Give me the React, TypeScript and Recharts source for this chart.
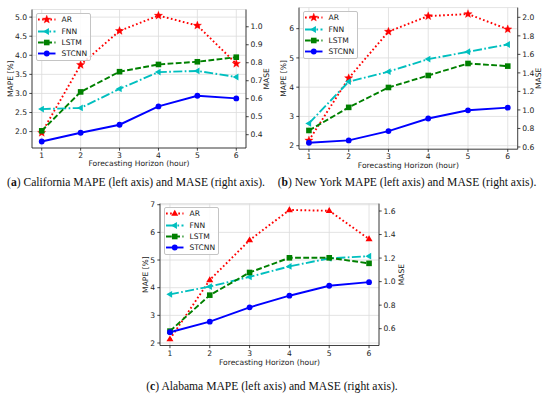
import React from 'react';
import { LineChart, Line, XAxis, YAxis, CartesianGrid, Legend } from 'recharts';

// ---------- data ----------
const horizons = [1, 2, 3, 4, 5, 6];
const seriesNames = ['AR', 'FNN', 'LSTM', 'STCNN'];

// California MAPE [%]
const caAR = [1.97, 3.75, 4.64, 5.04, 4.78, 3.78];
const caFNN = [2.59, 2.62, 3.12, 3.56, 3.59, 3.43];
const caLSTM = [2.02, 3.04, 3.57, 3.76, 3.83, 3.95];
const caSTCNN = [1.74, 1.97, 2.18, 2.66, 2.94, 2.87];

// New York MAPE [%]
const nyAR = [2.18, 4.31, 5.9, 6.43, 6.5, 5.98];
const nyFNN = [2.76, 4.19, 4.53, 4.96, 5.21, 5.46];
const nyLSTM = [2.52, 3.31, 3.99, 4.4, 4.81, 4.72];
const nySTCNN = [2.1, 2.18, 2.5, 2.93, 3.21, 3.3];

// Alabama MAPE [%]
const alAR = [2.14, 4.28, 5.72, 6.81, 6.78, 5.76];
const alFNN = [3.76, 4.04, 4.39, 4.77, 5.06, 5.14];
const alLSTM = [2.43, 3.73, 4.55, 5.08, 5.08, 4.88];
const alSTCNN = [2.39, 2.77, 3.29, 3.71, 4.07, 4.2];

// tick labels
const caMapeTicks = [2.0, 2.5, 3.0, 3.5, 4.0, 4.5, 5.0];
const caMaseTicks = [0.4, 0.5, 0.6, 0.7, 0.8, 0.9, 1.0];
const nyMapeTicks = [2, 3, 4, 5, 6];
const nyMaseTicks = [0.6, 0.8, 1.0, 1.2, 1.4, 1.6, 1.8, 2.0];
const alMapeTicks = [2, 3, 4, 5, 6, 7];
const alMaseTicks = [0.6, 0.8, 1.0, 1.2, 1.4, 1.6];

const xLabel = 'Forecasting Horizon (hour)';
const leftLabel = 'MAPE [%]';
const rightLabel = 'MASE';

const captionA = { tag: 'a', text: ' California MAPE (left axis) and MASE (right axis).' };
const captionB = { tag: 'b', text: ' New York MAPE (left axis) and MASE (right axis).' };
const captionC = { tag: 'c', text: ' Alabama MAPE (left axis) and MASE (right axis).' };

// ---------- styles ----------
const FONT = '"DejaVu Sans", sans-serif';
const FS = 7.6;
const INK = '#1a1a1a';
const LW = 1.9;

const SERIES_STYLE: Record<string, { color: string; dash?: string; shape: string }> = {
  AR: { color: '#ff0000', dash: '1.7 2.4', shape: 'star' },
  FNN: { color: '#00bfbf', dash: '9 2.4 1.7 2.4', shape: 'left' },
  LSTM: { color: '#008000', dash: '5.8 2.4', shape: 'square' },
  STCNN: { color: '#0000ff', dash: undefined, shape: 'circle' },
};

function buildRows(ar: number[], fnn: number[], lstm: number[], stcnn: number[]) {
  return horizons.map((h, i) => ({ h, AR: ar[i], FNN: fnn[i], LSTM: lstm[i], STCNN: stcnn[i] }));
}

function Marker({ shape, cx, cy, color }: { shape: string; cx: number; cy: number; color: string }) {
  if (cx == null || cy == null) return null;
  if (shape === 'star') {
    const pts: string[] = [];
    for (let k = 0; k < 10; k++) {
      const r = k % 2 === 0 ? 4.4 : 1.9;
      const a = -Math.PI / 2 + (k * Math.PI) / 5;
      pts.push(`${cx + r * Math.cos(a)},${cy + r * Math.sin(a)}`);
    }
    return <polygon points={pts.join(' ')} fill={color} stroke={color} strokeWidth={0.3} />;
  }
  if (shape === 'tri') {
    const r = 3.7;
    return (
      <polygon
        points={`${cx},${cy - r} ${cx + r * 0.95},${cy + r * 0.6} ${cx - r * 0.95},${cy + r * 0.6}`}
        fill={color}
      />
    );
  }
  if (shape === 'left') {
    const r = 3.6;
    return (
      <polygon
        points={`${cx - r},${cy} ${cx + r * 0.6},${cy - r * 0.95} ${cx + r * 0.6},${cy + r * 0.95}`}
        fill={color}
      />
    );
  }
  if (shape === 'square') {
    return <rect x={cx - 2.8} y={cy - 2.8} width={5.6} height={5.6} fill={color} />;
  }
  return <circle cx={cx} cy={cy} r={2.9} fill={color} />;
}

function LegendBox({ arShape }: { arShape: string }) {
  return (
    <div
      style={{
        border: '1px solid #c4c4c4',
        borderRadius: 2,
        background: 'rgba(255,255,255,0.85)',
        padding: '0 3px 1px 1.5px',
        fontFamily: FONT,
        fontSize: FS,
        color: INK,
        whiteSpace: 'nowrap',
      }}
    >
      {seriesNames.map((name) => {
        const st = SERIES_STYLE[name];
        const shape = name === 'AR' ? arShape : st.shape;
        return (
          <div key={name} style={{ height: 11.2, display: 'flex', alignItems: 'center' }}>
            <svg width={17.5} height={11} style={{ display: 'block' }}>
              <line x1={0} y1={5.5} x2={17.5} y2={5.5} stroke={st.color} strokeWidth={LW} strokeDasharray={st.dash} />
              <Marker shape={shape} cx={8.75} cy={5.5} color={st.color} />
            </svg>
            <span style={{ marginLeft: 6, lineHeight: '11px' }}>{name}</span>
          </div>
        );
      })}
    </div>
  );
}

type PanelProps = {
  rows: any[];
  left: number;
  top: number;
  width: number;
  height: number;
  margin: { top: number; right: number; bottom: number; left: number };
  mapeDomain: [number, number];
  mapeTicks: number[];
  mapeFmt: (v: number) => string;
  maseDomain: [number, number];
  maseTicks: number[];
  leftOff: number;
  rightOff: number;
  xOff: number;
  arShape: string;
};

function Panel(p: PanelProps) {
  const tickStyle = { fontSize: FS, fill: INK, fontFamily: FONT };
  const lineStyle = { stroke: INK, strokeWidth: 0.8 };
  const labelStyle = { fontSize: FS, fill: INK, fontFamily: FONT, textAnchor: 'middle' as const };
  const plotLeft = p.margin.left + 20;
  const plotTop = p.margin.top;
  return (
    <div style={{ position: 'absolute', left: p.left, top: p.top }}>
      <LineChart width={p.width} height={p.height} data={p.rows} margin={p.margin}>
        <CartesianGrid stroke="#dcdcdc" strokeWidth={0.8} />
        <XAxis
          dataKey="h"
          type="number"
          domain={[0.75, 6.25]}
          ticks={horizons}
          interval={0}
          allowDataOverflow
          height={20}
          tick={tickStyle}
          tickSize={2.7}
          tickMargin={2}
          axisLine={lineStyle}
          tickLine={lineStyle}
          label={{ value: xLabel, position: 'insideBottom', offset: p.xOff, style: labelStyle }}
        />
        <XAxis
          xAxisId="top"
          orientation="top"
          type="number"
          domain={[0.75, 6.25]}
          allowDataOverflow
          height={0}
          tick={false}
          tickLine={false}
          axisLine={lineStyle}
        />
        <YAxis
          type="number"
          domain={p.mapeDomain}
          ticks={p.mapeTicks}
          interval={0}
          allowDataOverflow
          width={20}
          tick={tickStyle}
          tickSize={2.7}
          tickMargin={2.3}
          tickFormatter={p.mapeFmt}
          axisLine={lineStyle}
          tickLine={lineStyle}
          label={{ value: leftLabel, angle: -90, position: 'insideLeft', offset: p.leftOff, style: labelStyle }}
        />
        <YAxis
          yAxisId="right"
          orientation="right"
          type="number"
          domain={p.maseDomain}
          ticks={p.maseTicks}
          interval={0}
          allowDataOverflow
          width={20}
          tick={tickStyle}
          tickSize={2.7}
          tickMargin={1.8}
          tickFormatter={(v: number) => v.toFixed(1)}
          axisLine={lineStyle}
          tickLine={lineStyle}
          label={{ value: rightLabel, angle: -90, position: 'insideRight', offset: p.rightOff, style: labelStyle }}
        />
        {seriesNames.map((name) => {
          const st = SERIES_STYLE[name];
          const shape = name === 'AR' ? p.arShape : st.shape;
          return (
            <Line
              key={name}
              type="linear"
              dataKey={name}
              stroke={st.color}
              strokeWidth={LW}
              strokeDasharray={st.dash}
              isAnimationActive={false}
              activeDot={false}
              dot={(d: any) => (
                <Marker key={`${name}-${d.index}`} shape={shape} cx={d.cx} cy={d.cy} color={st.color} />
              )}
            />
          );
        })}
        <Legend
          layout="vertical"
          align="center"
          verticalAlign="middle"
          wrapperStyle={{ left: plotLeft + 3.5, top: plotTop + 3.8, width: 'auto', height: 'auto' }}
          content={() => <LegendBox arShape={p.arShape} />}
        />
      </LineChart>
    </div>
  );
}

function Caption({ c, centerX, centerY }: { c: { tag: string; text: string }; centerX: number; centerY: number }) {
  return (
    <div
      style={{
        position: 'absolute',
        left: centerX - 150,
        width: 300,
        top: centerY - 7,
        height: 14,
        lineHeight: '14px',
        textAlign: 'center',
        fontFamily: '"Liberation Serif", serif',
        fontSize: 11.6,
        color: '#111',
        whiteSpace: 'nowrap',
      }}
    >
      ({<b>{c.tag}</b>}){c.text}
    </div>
  );
}

export default function App() {
  const caRows = buildRows(caAR, caFNN, caLSTM, caSTCNN);
  const nyRows = buildRows(nyAR, nyFNN, nyLSTM, nySTCNN);
  const alRows = buildRows(alAR, alFNN, alLSTM, alSTCNN);
  return (
    <div
      style={{
        position: 'absolute',
        left: 0,
        top: 0,
        width: 550,
        height: 398,
        background: '#fff',
        overflow: 'hidden',
        fontFamily: FONT,
      }}
    >
      <Panel
        rows={caRows}
        left={0}
        top={0}
        width={275}
        height={170}
        margin={{ top: 9.5, right: 9, bottom: 2, left: 12 }}
        mapeDomain={[1.57, 5.2]}
        mapeTicks={caMapeTicks}
        mapeFmt={(v) => v.toFixed(1)}
        maseDomain={[0.326, 1.096]}
        maseTicks={caMaseTicks}
        leftOff={-2}
        rightOff={-0.7}
        xOff={2}
        arShape="star"
      />
      <Panel
        rows={nyRows}
        left={275}
        top={0}
        width={275}
        height={170}
        margin={{ top: 7.6, right: 12.3, bottom: 0.8, left: 4 }}
        mapeDomain={[1.88, 6.72]}
        mapeTicks={nyMapeTicks}
        mapeFmt={(v) => String(v)}
        maseDomain={[0.576, 2.105]}
        maseTicks={nyMaseTicks}
        leftOff={4.3}
        rightOff={-0.6}
        xOff={1.2}
        arShape="star"
      />
      <Panel
        rows={alRows}
        left={130}
        top={190}
        width={280}
        height={180}
        margin={{ top: 13.6, right: 11, bottom: 4.5, left: 10 }}
        mapeDomain={[1.91, 7.04]}
        mapeTicks={alMapeTicks}
        mapeFmt={(v) => String(v)}
        maseDomain={[0.457, 1.663]}
        maseTicks={alMaseTicks}
        leftOff={5}
        rightOff={-2.7}
        xOff={0.5}
        arShape="tri"
      />
      <Caption c={captionA} centerX={136} centerY={183} />
      <Caption c={captionB} centerX={407} centerY={183} />
      <Caption c={captionC} centerX={272} centerY={386.5} />
    </div>
  );
}
